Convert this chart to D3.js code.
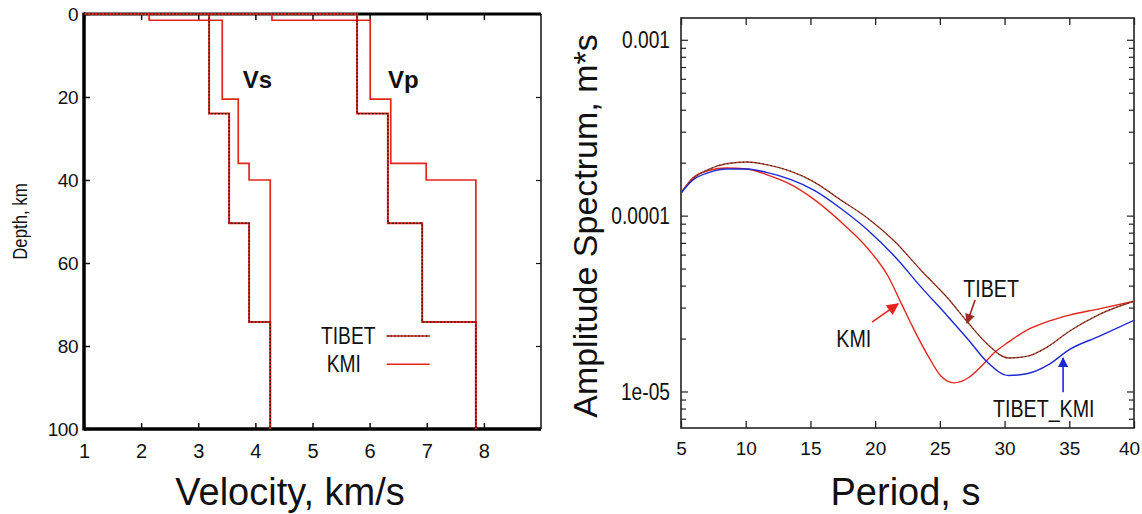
<!DOCTYPE html>
<html><head><meta charset="utf-8">
<script src="https://cdn.jsdelivr.net/npm/d3@7"></script>
<style>
body{margin:0;background:#fff}
svg text{font-family:"Liberation Sans",Arial,Helvetica,sans-serif;fill:#111}
</style>
</head><body>
<svg id="c" width="1142" height="514"></svg>
<script>
// ---------- data: velocity model (left) ----------
const velTicks   = [1,2,3,4,5,6,7,8];
const depthTicks = [0,20,40,60,80,100];
const maxDepth   = 100;
const tibetTops  = [0, 24, 50.4, 74.2];
const tibetVs    = [3.19, 3.54, 3.89, 4.26];
const tibetVp    = [5.78, 6.32, 6.92, 7.86];
const kmiTops    = [0, 1.5, 20.5, 36, 40];
const kmiVs      = [2.14, 3.42, 3.70, 3.89, 4.26];
const kmiVp      = [4.29, 6.01, 6.37, 6.99, 7.86];
const legendNames = ["TIBET","KMI"];

// ---------- data: amplitude spectra (right) ----------
const periods     = [5,5.9,7.2,8.5,10.1,11.6,13.5,15.3,17.3,19.4,21.5,23.5,25.6,27.2,28.7,30.3,31.8,33.4,35,37.3,40];
const tibetAmp    = [1.345e-4,1.614e-4,1.841e-4,1.972e-4,2.019e-4,1.950e-4,1.786e-4,1.553e-4,1.233e-4,9.70e-5,7.14e-5,4.93e-5,3.40e-5,2.45e-5,1.85e-5,1.55e-5,1.59e-5,1.81e-5,2.20e-5,2.74e-5,3.26e-5];
const tibetKmiAmp = [1.345e-4,1.589e-4,1.762e-4,1.841e-4,1.841e-4,1.762e-4,1.603e-4,1.393e-4,1.106e-4,8.32e-5,5.87e-5,3.96e-5,2.68e-5,1.97e-5,1.46e-5,1.233e-5,1.265e-5,1.42e-5,1.73e-5,2.06e-5,2.54e-5];
const kmiPeriods  = [5,5.9,7.2,8.5,10.1,11.6,13.5,15.3,17.3,19.4,21,22,23,24.1,25.1,26.1,27.2,28.2,29.2,30.3,31.8,33.4,35,37.3,40];
const kmiAmp      = [1.345e-4,1.637e-4,1.811e-4,1.866e-4,1.841e-4,1.710e-4,1.500e-4,1.233e-4,9.29e-5,6.55e-5,4.52e-5,3.19e-5,2.25e-5,1.59e-5,1.22e-5,1.12e-5,1.197e-5,1.39e-5,1.66e-5,1.91e-5,2.25e-5,2.51e-5,2.72e-5,2.95e-5,3.26e-5];
const periodTicks = [5,10,15,20,25,30,35,40];
const ampMajor    = [1e-3,1e-4,1e-5];
const ampLabels   = ["0.001","0.0001","1e-05"];
// annotation anchors (period, amplitude)
const noteText  = ["TIBET","KMI","TIBET_KMI"];
const notePer   = [26.8, 17.0, 29.1];
const noteAmp   = [3.44e-5, 1.79e-5, 7.16e-6];
const arrowFrom = [[27.72,3.31e-5],[19.76,2.48e-5],[34.52,0.99e-5]];
const arrowTo   = [[27.10,2.45e-5],[21.77,3.15e-5],[34.52,1.55e-5]];

const RED="#e3261d", DARK="#2a0d08", BLUE="#1c28d6", BROWN="#a5412f";
const svg=d3.select("#c");

// ================= LEFT PANEL =================
const L={x0:84,x1:541,y0:14,y1:429};
const xV=d3.scaleLinear().domain([1,9]).range([L.x0,L.x1]);
const yD=d3.scaleLinear().domain([0,100]).range([L.y0,L.y1]);
const gl=svg.append("g");

gl.append("defs").append("clipPath").attr("id","clipL")
  .append("rect").attr("x",L.x0).attr("y",L.y0-3).attr("width",L.x1-L.x0).attr("height",L.y1-L.y0+3);

// axes (inward ticks)
gl.append("g").attr("transform",`translate(0,${L.y1})`)
  .call(d3.axisBottom(xV).tickValues(velTicks).tickSizeInner(-6).tickSizeOuter(0).tickPadding(15))
  .call(g=>{g.select(".domain").remove();g.selectAll("line").attr("stroke","#111").attr("stroke-width",1.5);
    g.selectAll("text").attr("font-size",20).attr("fill","#111");});
gl.append("g").attr("transform",`translate(0,${L.y0})`)
  .call(d3.axisTop(xV).tickValues(velTicks).tickSizeInner(-6).tickSizeOuter(0).tickFormat(""))
  .call(g=>{g.select(".domain").remove();g.selectAll("line").attr("stroke","#111").attr("stroke-width",1.5);});
gl.append("g").attr("transform",`translate(${L.x0},0)`)
  .call(d3.axisLeft(yD).tickValues(depthTicks).tickSizeInner(-6).tickSizeOuter(0).tickPadding(6))
  .call(g=>{g.select(".domain").remove();g.selectAll("line").attr("stroke","#111").attr("stroke-width",1.5);
    g.selectAll("text").attr("font-size",19).attr("fill","#111").attr("letter-spacing","-0.5px");});
gl.append("g").attr("transform",`translate(${L.x1},0)`)
  .call(d3.axisRight(yD).tickValues(depthTicks).tickSizeInner(-5).tickSizeOuter(0).tickFormat(""))
  .call(g=>{g.select(".domain").remove();g.selectAll("line").attr("stroke","#111").attr("stroke-width",1.2);});

// frame
gl.append("line").attr("x1",L.x0).attr("x2",L.x1).attr("y1",L.y0).attr("y2",L.y0).attr("stroke","#000").attr("stroke-width",3);
gl.append("line").attr("x1",L.x0).attr("x2",L.x1).attr("y1",L.y1).attr("y2",L.y1).attr("stroke","#000").attr("stroke-width",3.5);
gl.append("line").attr("x1",L.x0).attr("x2",L.x0).attr("y1",L.y0-1.5).attr("y2",L.y1+1.5).attr("stroke","#000").attr("stroke-width",3.5);
gl.append("line").attr("x1",L.x1).attr("x2",L.x1).attr("y1",L.y0).attr("y2",L.y1).attr("stroke","#111").attr("stroke-width",1.5);

// step profiles
function steps(tops,vels){
  const pts=[[0,0]];
  vels.forEach((v,i)=>{const b=i<tops.length-1?tops[i+1]:maxDepth;pts.push([v,tops[i]]);pts.push([v,b]);});
  return pts;
}
const lineL=d3.line().x(d=>xV(d[0])).y(d=>yD(d[1]));
const prof=gl.append("g").attr("clip-path","url(#clipL)").attr("fill","none");
[kmiVs,kmiVp].forEach(v=>prof.append("path").attr("d",lineL(steps(kmiTops,v))).attr("stroke",RED).attr("stroke-width",1.7));
[tibetVs,tibetVp].forEach(v=>{
  prof.append("path").attr("d",lineL(steps(tibetTops,v))).attr("stroke",RED).attr("stroke-width",2);
  prof.append("path").attr("d",lineL(steps(tibetTops,v))).attr("stroke",DARK).attr("stroke-width",1.1).attr("stroke-dasharray","2,1.5");
});

// Vs / Vp labels
gl.append("text").attr("x",xV(3.78)).attr("y",yD(17.9)).attr("font-size",24).attr("font-weight","bold").text("Vs");
gl.append("text").attr("x",xV(6.32)).attr("y",yD(17.9)).attr("font-size",24).attr("font-weight","bold").text("Vp");

// legend
const legY=[yD(77.6),yD(84.4)];
legendNames.forEach((n,i)=>{
  gl.append("text").attr("transform",`translate(${xV(i?5.25:5.15)},${legY[i]+8}) scale(0.8,1)`).attr("font-size",24).text(n);
  gl.append("line").attr("x1",xV(6.3)).attr("x2",xV(7.05)).attr("y1",legY[i]).attr("y2",legY[i]).attr("stroke",RED).attr("stroke-width",1.6);
  if(i===0) gl.append("line").attr("x1",xV(6.3)).attr("x2",xV(7.05)).attr("y1",legY[i]).attr("y2",legY[i]).attr("stroke",DARK).attr("stroke-width",1.1).attr("stroke-dasharray","2,1.5");
});

// axis titles
gl.append("text").attr("x",290).attr("y",505).attr("text-anchor","middle").attr("font-size",38).text("Velocity, km/s");
gl.append("text").attr("transform",`translate(27,${yD(50)}) rotate(-90) scale(0.8,1)`).attr("text-anchor","middle").attr("font-size",21).text("Depth, km");

// ================= RIGHT PANEL =================
const R={x0:681,x1:1134,y0:18,y1:428};
const xP=d3.scaleLinear().domain([5,40]).range([R.x0,R.x1]);
const yA=d3.scaleLog().domain([6.2e-6,1.33e-3]).range([R.y1,R.y0]);
const gr=svg.append("g");
const allTicks=yA.ticks();
const isMajor=v=>ampMajor.some(m=>Math.abs(m-v)/m<1e-6);

gr.append("g").attr("transform",`translate(0,${R.y1})`)
  .call(d3.axisBottom(xP).tickValues(periodTicks).tickSizeInner(-7).tickSizeOuter(0).tickPadding(14))
  .call(g=>{g.select(".domain").remove();g.selectAll("line").attr("stroke","#222").attr("stroke-width",1.3);
    g.selectAll("text").attr("font-size",19).attr("fill","#222").attr("dx",d=>d===40?-5:0);});
gr.append("g").attr("transform",`translate(0,${R.y0})`)
  .call(d3.axisTop(xP).tickValues(periodTicks).tickSizeInner(-7).tickSizeOuter(0).tickFormat(""))
  .call(g=>{g.select(".domain").remove();g.selectAll("line").attr("stroke","#222").attr("stroke-width",1.3);});
gr.append("g").attr("transform",`translate(${R.x0},0)`)
  .call(d3.axisLeft(yA).tickValues(allTicks).tickSizeInner(-6).tickSizeOuter(0).tickPadding(9)
    .tickFormat(v=>{const k=ampMajor.findIndex(m=>Math.abs(m-v)/m<1e-6);return k>=0?ampLabels[k]:"";}))
  .call(g=>{g.select(".domain").remove();
    g.selectAll(".tick line").attr("stroke","#222").attr("stroke-width",1.2).attr("x2",d=>isMajor(d)?7:5);
    g.selectAll("text").attr("font-size",24).attr("fill","#222")
      .attr("transform","scale(0.8,1)").attr("x",-11/0.8);});
gr.append("g").attr("transform",`translate(${R.x1},0)`)
  .call(d3.axisRight(yA).tickValues(allTicks).tickSizeInner(-6).tickSizeOuter(0).tickFormat(""))
  .call(g=>{g.select(".domain").remove();
    g.selectAll(".tick line").attr("stroke","#222").attr("stroke-width",1.2).attr("x2",d=>isMajor(d)?-7:-5);});
gr.append("rect").attr("x",R.x0).attr("y",R.y0).attr("width",R.x1-R.x0).attr("height",R.y1-R.y0)
  .attr("fill","none").attr("stroke","#222").attr("stroke-width",1.6);

gr.append("defs").append("clipPath").attr("id","clipR")
  .append("rect").attr("x",R.x0).attr("y",R.y0).attr("width",R.x1-R.x0).attr("height",R.y1-R.y0);
const lineR=d3.line().x(d=>xP(d[0])).y(d=>yA(d[1])).curve(d3.curveMonotoneX);
const curves=gr.append("g").attr("clip-path","url(#clipR)").attr("fill","none");
curves.append("path").attr("d",lineR(kmiPeriods.map((p,i)=>[p,kmiAmp[i]]))).attr("stroke",RED).attr("stroke-width",1.4);
curves.append("path").attr("d",lineR(periods.map((p,i)=>[p,tibetAmp[i]]))).attr("stroke",BROWN).attr("stroke-width",1.4);
curves.append("path").attr("d",lineR(periods.map((p,i)=>[p,tibetAmp[i]]))).attr("stroke","#3a1408").attr("stroke-width",0.9).attr("stroke-dasharray","1.5,2.5");
curves.append("path").attr("d",lineR(periods.map((p,i)=>[p,tibetKmiAmp[i]]))).attr("stroke",BLUE).attr("stroke-width",1.4);

// annotations
noteText.forEach((t,i)=>{
  gr.append("text").attr("transform",`translate(${xP(notePer[i])},${yA(noteAmp[i])}) scale(0.82,1)`).attr("font-size",24).text(t);
});
const arrowCol=["#9a2a22",RED,BLUE];
const defs=svg.append("defs");
arrowCol.forEach((c,i)=>{
  defs.append("marker").attr("id","ah"+i).attr("viewBox","0 0 10 10").attr("refX",9).attr("refY",5)
    .attr("markerWidth",i===1?16:13).attr("markerHeight",i===1?12:10).attr("markerUnits","userSpaceOnUse")
    .attr("orient","auto").append("path").attr("d","M0,0L10,5L0,10Z").attr("fill",c);
  gr.append("line").attr("x1",xP(arrowFrom[i][0])).attr("y1",yA(arrowFrom[i][1]))
    .attr("x2",xP(arrowTo[i][0])).attr("y2",yA(arrowTo[i][1]))
    .attr("stroke",c).attr("stroke-width",1.6).attr("marker-end",`url(#ah${i})`);
});

gr.append("text").attr("x",(R.x0+R.x1)/2-2).attr("y",505).attr("text-anchor","middle").attr("font-size",38).text("Period, s");
gr.append("text").attr("transform",`translate(597,226) rotate(-90)`).attr("text-anchor","middle").attr("font-size",34).text("Amplitude Spectrum, m*s");
</script>
</body></html>
